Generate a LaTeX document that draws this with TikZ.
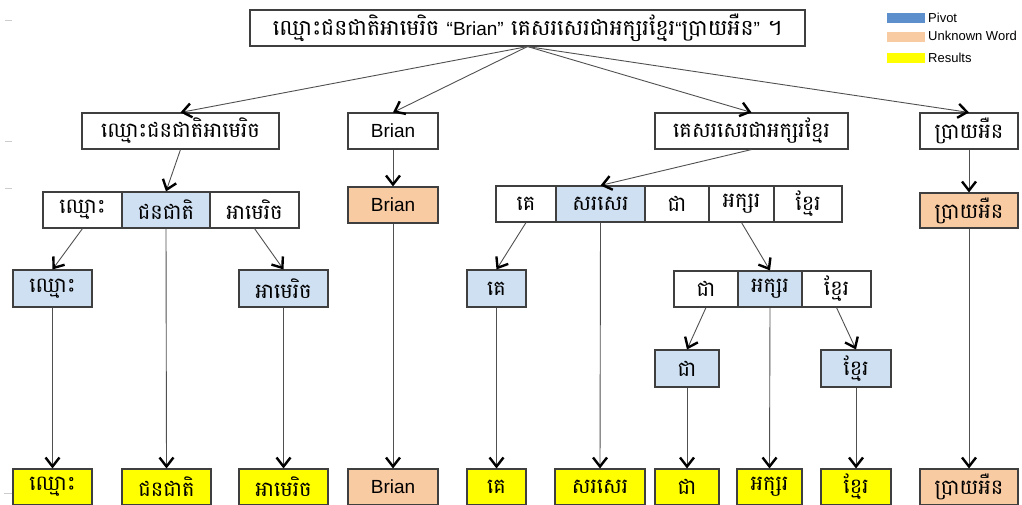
\documentclass[tikz,border=0pt]{standalone}
\usepackage{fontspec}
\setmainfont{Liberation Sans}
\newfontfamily\khfont[Script=Khmer]{Battambang}
\usetikzlibrary{arrows.meta}
\definecolor{boxline}{HTML}{3F3F3F}
\definecolor{linegray}{HTML}{505050}
\definecolor{pivotfill}{HTML}{CFE0F2}
\definecolor{unkfill}{HTML}{F9CBA3}
\definecolor{legblue}{HTML}{5C8FCB}
\definecolor{legpeach}{HTML}{F9CBA3}
\definecolor{resyellow}{HTML}{FFFF00}
\newcommand{\khs}{\khfont\fontsize{21}{24}\selectfont}
\newcommand{\khtitle}{\khfont\fontsize{22}{25}\selectfont}
\newcommand{\las}{\rmfamily\fontsize{19}{22}\selectfont}
\tikzset{
  box/.style={draw=boxline, line width=1.1pt, inner sep=0pt, minimum height=36pt, font=\khs, text=black},
  pivot/.style={box, fill=pivotfill},
  unk/.style={box, fill=unkfill, font=\las},
  unkkh/.style={box, fill=unkfill},
  res/.style={box, fill=resyellow},
  plain/.style={box, fill=white},
  conn/.style={draw=linegray, line width=0.9pt, -{Straight Barb[length=9pt,width=14pt,line width=2.4pt,color=black]}},
  swatch/.style={inner sep=0pt, minimum width=38pt, minimum height=10pt},
  legtext/.style={anchor=west, inner sep=0pt, font=\fontsize{13}{15}\selectfont},
  tick/.style={draw=gray!40, line width=0.8pt}
}
\begin{document}
\begin{tikzpicture}[x=1pt,y=-1pt]
\useasboundingbox (0,0) rectangle (1022,504);
\clip (0,0) rectangle (1022,504);
% title
\node[plain, minimum width=555pt, font=\khtitle] (title) at (527.5,28)
  {ឈ្មោះជនជាតិអាមេរិច {\las “Brian”} គេសរសេរជាអក្សរខ្មែរ{\las “}ប្រាយអឺន{\las ”} ។};
% legend
\node[swatch, fill=legblue] (lb) at (906,17.5) {};
\node[swatch, fill=legpeach] (lp) at (906,37) {};
\node[swatch, fill=resyellow] (ly) at (906,57.5) {};
\node[legtext] (lbt) at (928,18) {Pivot};
\node[legtext] (lpt) at (928,36) {Unknown Word};
\node[legtext] (lyt) at (928,58) {Results};
% row 2
\node[plain, minimum width=197pt] (A) at (180.5,131) {ឈ្មោះជនជាតិអាមេរិច};
\node[plain, minimum width=90pt, font=\las] (B) at (393,131) {Brian};
\node[plain, minimum width=193pt] (C) at (751.5,131) {គេសរសេរជាអក្សរខ្មែរ};
\node[plain, minimum width=98pt] (D) at (969,131) {ប្រាយអឺន};
% row 3
\node[plain, minimum width=79pt] (L1) at (82.5,210) {ឈ្មោះ};
\node[pivot, minimum width=88pt] (L2) at (166,210) {ជនជាតិ};
\node[plain, minimum width=89pt] (L3) at (254.5,210) {អាមេរិច};
\node[unk, minimum width=90pt] (Bp) at (393,205) {Brian};
\node[plain, minimum width=60pt] (R1) at (526,204) {គេ};
\node[pivot, minimum width=89pt] (R2) at (600.5,204) {សរសេរ};
\node[plain, minimum width=64pt] (R3) at (677,204) {ជា};
\node[plain, minimum width=65pt] (R4) at (741.5,204) {អក្សរ};
\node[plain, minimum width=68pt] (R5) at (808,204) {ខ្មែរ};
\node[unkkh, minimum width=98pt, minimum height=35pt] (Dp) at (969,210.5) {ប្រាយអឺន};
% row 4
\node[pivot, minimum width=79pt, minimum height=37pt] (F1) at (52.5,288.5) {ឈ្មោះ};
\node[pivot, minimum width=89pt, minimum height=37pt] (F3) at (283.5,288.5) {អាមេរិច};
\node[pivot, minimum width=59pt, minimum height=37pt] (G1) at (496.5,288.5) {គេ};
\node[plain, minimum width=64pt] (H1) at (706,289) {ជា};
\node[pivot, minimum width=64pt] (H2) at (770,289) {អក្សរ};
\node[plain, minimum width=69pt] (H3) at (836.5,289) {ខ្មែរ};
\node[pivot, minimum width=64pt, minimum height=37pt] (J1) at (687,368.5) {ជា};
\node[pivot, minimum width=70pt, minimum height=37pt] (J3) at (856,368.5) {ខ្មែរ};
% row 5
\node[res, minimum width=79pt] (Z1) at (52.5,487) {ឈ្មោះ};
\node[res, minimum width=89pt] (Z2) at (166.5,487) {ជនជាតិ};
\node[res, minimum width=89pt] (Z3) at (283.5,487) {អាមេរិច};
\node[unk, minimum width=90pt] (Z4) at (393,487) {Brian};
\node[res, minimum width=59pt] (Z5) at (496.5,487) {គេ};
\node[res, minimum width=90pt] (Z6) at (600,487) {សរសេរ};
\node[res, minimum width=64pt] (Z7) at (687,487) {ជា};
\node[res, minimum width=65pt] (Z8) at (769.5,487) {អក្សរ};
\node[res, minimum width=70pt] (Z9) at (856,487) {ខ្មែរ};
\node[unkkh, minimum width=98pt] (Z10) at (969,487) {ប្រាយអឺន};
% connectors
\draw[conn] (title.south) -- (A.north);
\draw[conn] (title.south) -- (B.north);
\draw[conn] (title.south) -- (C.north);
\draw[conn] (title.south) -- (D.north);
\draw[conn] (A.south) -- (L2.north);
\draw[conn] (B.south) -- (Bp.north);
\draw[conn] (C.south) -- (R2.north);
\draw[conn] (D.south) -- (Dp.north);
\draw[conn] (L1.south) -- (F1.north);
\draw[conn] (L3.south) -- (F3.north);
\draw[conn] (R1.south) -- (G1.north);
\draw[conn] (R4.south) -- (H2.north);
\draw[conn] (H1.south) -- (J1.north);
\draw[conn] (H3.south) -- (J3.north);
\draw[conn] (F1.south) -- (Z1.north);
\draw[conn] (L2.south) -- (Z2.north);
\draw[conn] (F3.south) -- (Z3.north);
\draw[conn] (Bp.south) -- (Z4.north);
\draw[conn] (G1.south) -- (Z5.north);
\draw[conn] (R2.south) -- (Z6.north);
\draw[conn] (J1.south) -- (Z7.north);
\draw[conn] (H2.south) -- (Z8.north);
\draw[conn] (J3.south) -- (Z9.north);
\draw[conn] (Dp.south) -- (Z10.north);
% edge marks
\coordinate (t1a) at (5,20); \coordinate (t1b) at (12,20);
\coordinate (t2a) at (5,141); \coordinate (t2b) at (12,141);
\coordinate (t3a) at (5,188); \coordinate (t3b) at (12,188);
\coordinate (t4a) at (4,493); \coordinate (t4b) at (12,493);
\draw[tick] (t1a) -- (t1b);
\draw[tick] (t2a) -- (t2b);
\draw[tick] (t3a) -- (t3b);
\draw[tick] (t4a) -- (t4b);
\end{tikzpicture}
\end{document}
